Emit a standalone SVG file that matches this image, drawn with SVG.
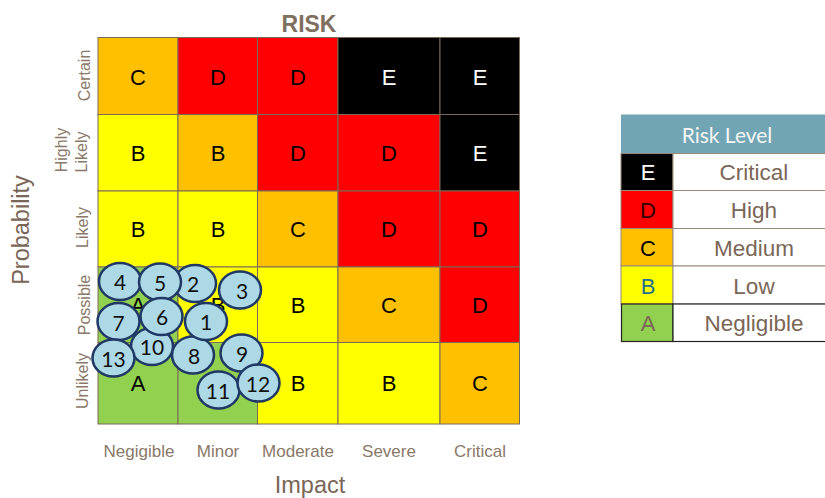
<svg xmlns="http://www.w3.org/2000/svg" width="825" height="498" viewBox="0 0 825 498">
<style>
.cell{stroke:#7a6a58;stroke-width:1}
.lt{font-family:"Liberation Sans",Arial,sans-serif;font-size:22px;text-anchor:middle;dominant-baseline:central}
.ax{font-family:"Liberation Sans",Arial,sans-serif;font-size:17px;fill:#8a7868;text-anchor:middle}
.rl{font-family:"Liberation Sans",Arial,sans-serif;font-size:16px;fill:#8a7868;text-anchor:middle}
.bub ellipse{fill:#add8e6;stroke:#1f3864;stroke-width:2.5}
.bub text{font-family:Lato,"Open Sans",sans-serif;font-size:21px;fill:#111;text-anchor:middle;dominant-baseline:central}
.lg{stroke:#9a8a7a;stroke-width:1}
.ln{font-family:"Liberation Sans",Arial,sans-serif;font-size:22.5px;fill:#7a6656;text-anchor:middle;dominant-baseline:central}
</style>
<rect width="825" height="498" fill="#fff"/>
<text x="309" y="32" font-family="Liberation Sans,Arial,sans-serif" font-size="23" font-weight="bold" fill="#7f6f5f" text-anchor="middle">RISK</text>
<g id="matrix">
<rect class="cell" x="98" y="37.5" width="80" height="77" fill="#ffc000"/>
<rect class="cell" x="178" y="37.5" width="79.5" height="77" fill="#ff0000"/>
<rect class="cell" x="257.5" y="37.5" width="80.5" height="77" fill="#ff0000"/>
<rect class="cell" x="338" y="37.5" width="102" height="77" fill="#000"/>
<rect class="cell" x="440" y="37.5" width="79.5" height="77" fill="#000"/>
<rect class="cell" x="98" y="114.5" width="80" height="76.5" fill="#ffff00"/>
<rect class="cell" x="178" y="114.5" width="79.5" height="76.5" fill="#ffc000"/>
<rect class="cell" x="257.5" y="114.5" width="80.5" height="76.5" fill="#ff0000"/>
<rect class="cell" x="338" y="114.5" width="102" height="76.5" fill="#ff0000"/>
<rect class="cell" x="440" y="114.5" width="79.5" height="76.5" fill="#000"/>
<rect class="cell" x="98" y="191" width="80" height="76" fill="#ffff00"/>
<rect class="cell" x="178" y="191" width="79.5" height="76" fill="#ffff00"/>
<rect class="cell" x="257.5" y="191" width="80.5" height="76" fill="#ffc000"/>
<rect class="cell" x="338" y="191" width="102" height="76" fill="#ff0000"/>
<rect class="cell" x="440" y="191" width="79.5" height="76" fill="#ff0000"/>
<rect class="cell" x="98" y="267" width="80" height="75.5" fill="#92d050"/>
<rect class="cell" x="178" y="267" width="79.5" height="75.5" fill="#ffff00"/>
<rect class="cell" x="257.5" y="267" width="80.5" height="75.5" fill="#ffff00"/>
<rect class="cell" x="338" y="267" width="102" height="75.5" fill="#ffc000"/>
<rect class="cell" x="440" y="267" width="79.5" height="75.5" fill="#ff0000"/>
<rect class="cell" x="98" y="342.5" width="80" height="81.5" fill="#92d050"/>
<rect class="cell" x="178" y="342.5" width="79.5" height="81.5" fill="#92d050"/>
<rect class="cell" x="257.5" y="342.5" width="80.5" height="81.5" fill="#ffff00"/>
<rect class="cell" x="338" y="342.5" width="102" height="81.5" fill="#ffff00"/>
<rect class="cell" x="440" y="342.5" width="79.5" height="81.5" fill="#ffc000"/>
<text class="lt" x="138" y="77">C</text>
<text class="lt" x="218" y="77">D</text>
<text class="lt" x="298" y="77">D</text>
<text class="lt" x="389" y="77" fill="#fff">E</text>
<text class="lt" x="480" y="77" fill="#fff">E</text>
<text class="lt" x="138" y="153">B</text>
<text class="lt" x="218" y="153">B</text>
<text class="lt" x="298" y="153">D</text>
<text class="lt" x="389" y="153">D</text>
<text class="lt" x="480" y="153" fill="#fff">E</text>
<text class="lt" x="138" y="229">B</text>
<text class="lt" x="218" y="229">B</text>
<text class="lt" x="298" y="229">C</text>
<text class="lt" x="389" y="229">D</text>
<text class="lt" x="480" y="229">D</text>
<text class="lt" x="138" y="305">A</text>
<text class="lt" x="218" y="305">B</text>
<text class="lt" x="298" y="305">B</text>
<text class="lt" x="389" y="305">C</text>
<text class="lt" x="480" y="305">D</text>
<text class="lt" x="138" y="383">A</text>
<text class="lt" x="298" y="383">B</text>
<text class="lt" x="389" y="383">B</text>
<text class="lt" x="480" y="383">C</text>
</g>
<g id="axes">
<text class="ax" x="139" y="457">Negigible</text>
<text class="ax" x="218" y="457">Minor</text>
<text class="ax" x="298" y="457">Moderate</text>
<text class="ax" x="389" y="457">Severe</text>
<text class="ax" x="480" y="457">Critical</text>
<text x="310" y="493" font-family="Liberation Sans,Arial,sans-serif" font-size="23.5" fill="#7a6656" text-anchor="middle">Impact</text>
<text transform="translate(29,230) rotate(-90)" font-family="Liberation Sans,Arial,sans-serif" font-size="23.5" fill="#7a6656" text-anchor="middle">Probability</text>
<text class="rl" transform="translate(90,75.5) rotate(-90)">Certain</text>
<text class="rl" transform="translate(67,150) rotate(-90)">Highly</text>
<text class="rl" transform="translate(87,152) rotate(-90)">Likely</text>
<text class="rl" transform="translate(88,227.5) rotate(-90)">Likely</text>
<text class="rl" transform="translate(90,305) rotate(-90)">Possible</text>
<text class="rl" transform="translate(88,381) rotate(-90)">Unlikely</text>
</g>
<g id="bubbles" class="bub">
<g id="b4"><ellipse cx="120" cy="281.5" rx="21" ry="18.5"/><text x="120" y="281.5">4</text></g>
<g id="b2"><ellipse cx="195" cy="283.5" rx="21" ry="18.5"/><text x="193" y="283.5">2</text></g>
<g id="b5"><ellipse cx="160" cy="282" rx="21" ry="18.5"/><text x="160" y="282">5</text></g>
<g id="b3"><ellipse cx="240" cy="290" rx="21" ry="18.5"/><text x="242" y="290">3</text></g>
<g id="b10"><ellipse cx="152" cy="346.5" rx="21" ry="18.5"/><text x="152" y="346.5">10</text></g>
<g id="b8"><ellipse cx="193" cy="355" rx="21" ry="18.5"/><text x="194" y="355">8</text></g>
<g id="b7"><ellipse cx="118.5" cy="321.5" rx="21" ry="18.5"/><text x="118.5" y="322">7</text></g>
<g id="b6"><ellipse cx="161.5" cy="316.5" rx="21" ry="18.5"/><text x="162" y="316.5">6</text></g>
<g id="b1"><ellipse cx="206" cy="321.5" rx="21" ry="18.5"/><text x="206" y="321.5">1</text></g>
<g id="b13"><ellipse cx="113.5" cy="358" rx="21" ry="18.5"/><text x="113.5" y="358">13</text></g>
<g id="b9"><ellipse cx="241.5" cy="353" rx="21" ry="18.5"/><text x="242" y="353">9</text></g>
<g id="b11"><ellipse cx="218.5" cy="390" rx="21" ry="18.5"/><text x="218" y="390">11</text></g>
<g id="b12"><ellipse cx="258.5" cy="383" rx="21" ry="18.5"/><text x="258" y="383">12</text></g>
</g>
<g id="legend">
<rect x="621" y="114.5" width="210" height="39" fill="#72a5b3"/>
<text x="727" y="134.5" font-family="Lato,'Open Sans',sans-serif" font-size="21" fill="#f4f4f4" text-anchor="middle" dominant-baseline="central">Risk Level</text>
<rect class="lg" x="621" y="153.5" width="52" height="37" fill="#000"/>
<rect class="lg" x="673" y="153.5" width="158" height="37" fill="#fff"/>
<rect class="lg" x="621" y="190.5" width="52" height="38" fill="#ff0000"/>
<rect class="lg" x="673" y="190.5" width="158" height="38" fill="#fff"/>
<rect class="lg" x="621" y="228.5" width="52" height="37.5" fill="#ffc000"/>
<rect class="lg" x="673" y="228.5" width="158" height="37.5" fill="#fff"/>
<rect class="lg" x="621" y="266" width="52" height="38" fill="#ffff00"/>
<rect class="lg" x="673" y="266" width="158" height="38" fill="#fff"/>
<rect x="621.5" y="304" width="51.5" height="37.5" fill="#92d050" stroke="#222" stroke-width="1.2"/>
<rect x="673" y="304" width="158" height="37.5" fill="#fff" stroke="#222" stroke-width="1.2"/>
<text class="lt" x="648" y="172" fill="#fff" font-size="20">E</text>
<text class="lt" x="648" y="210" fill="#300" font-size="20">D</text>
<text class="lt" x="648" y="248" font-size="20">C</text>
<text class="lt" x="648" y="286" fill="#1f6f8f" font-size="20">B</text>
<text class="lt" x="648" y="323" fill="#7a6656" font-size="20">A</text>
<text class="ln" x="754" y="172">Critical</text>
<text class="ln" x="754" y="210">High</text>
<text class="ln" x="754" y="248">Medium</text>
<text class="ln" x="754" y="286">Low</text>
<text class="ln" x="754" y="323">Negligible</text>
</g>
</svg>
